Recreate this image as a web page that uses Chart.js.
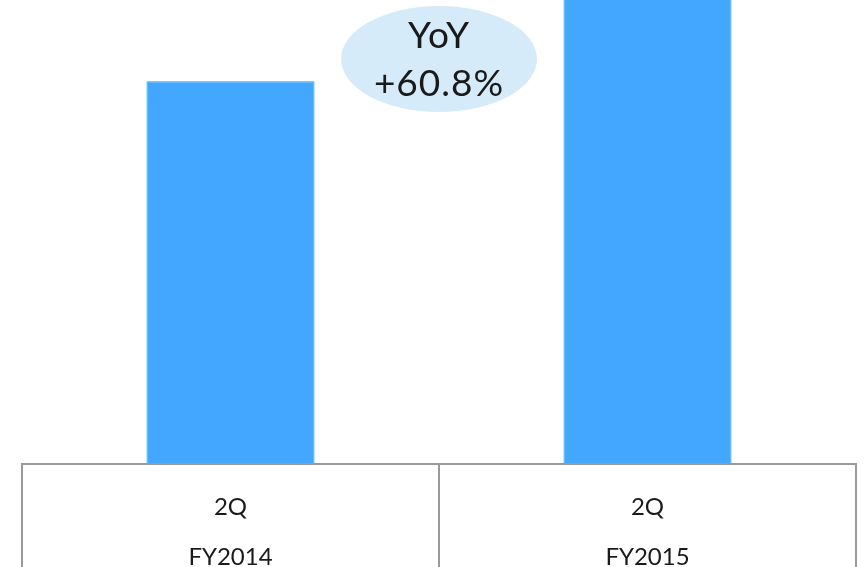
<!DOCTYPE html>
<html>
<head>
<meta charset="utf-8">
<script src="https://cdn.jsdelivr.net/npm/chart.js@4"></script>
<style>
  html, body { margin: 0; padding: 0; background: #fff; }
  #wrap { width: 864px; height: 567px; }
</style>
</head>
<body>
<div id="wrap"><canvas id="salesChart"></canvas></div>
<script>
// quarter / fiscal year labels
const quarters = ['2Q', '2Q'];
const fiscalYears = ['FY2014', 'FY2015'];
// 2Q sales, FY2015 is +60.8% on FY2014
const sales = [1000, 1608];
// axis top, the FY2015 bar runs past it
const yMax = 1212;

// YoY growth in percent
const yoy = ((sales[1] / sales[0] - 1) * 100).toFixed(1);

const lineColor = '#9a9a9a';

// table grid under the bars: top rule, outer sides and divider between the columns
const tableLines = {
    id: 'tableLines',
    afterDraw(chart) {
        const ctx = chart.ctx;
        const x = chart.scales.x;
        const top = chart.chartArea.bottom;
        const bottom = chart.height;
        const step = x.getPixelForValue(1) - x.getPixelForValue(0);
        const edges = [x.getPixelForValue(0) - step / 2];
        for (let i = 0; i < quarters.length; i++) {
            edges.push(x.getPixelForValue(i) + step / 2);
        }
        ctx.save();
        ctx.strokeStyle = lineColor;
        ctx.lineWidth = 2;
        ctx.beginPath();
        ctx.moveTo(edges[0] - 1, top);
        ctx.lineTo(edges[edges.length - 1] + 1, top);
        edges.forEach(function(e) {
            ctx.moveTo(e, top);
            ctx.lineTo(e, bottom);
        });
        ctx.stroke();
        ctx.restore();
    }
};

// growth bubble between the two bars
const yoyBubble = {
    id: 'yoyBubble',
    afterDraw(chart) {
        const ctx = chart.ctx;
        const x = chart.scales.x;
        const cx = (x.getPixelForValue(0) + x.getPixelForValue(1)) / 2;
        const cy = chart.chartArea.top + 59;
        ctx.save();
        ctx.fillStyle = '#d6ebfa';
        ctx.beginPath();
        ctx.ellipse(cx, cy, 98, 53, 0, 0, Math.PI * 2);
        ctx.fill();
        ctx.fillStyle = '#1a1a1a';
        ctx.font = '37px Lato';
        ctx.letterSpacing = '1px';
        ctx.textAlign = 'center';
        ctx.textBaseline = 'middle';
        ctx.fillText('YoY', cx, cy - 23);
        ctx.fillText('+' + yoy + '%', cx, cy + 25);
        ctx.restore();
    }
};

const ctx = document.getElementById('salesChart').getContext('2d');

new Chart(ctx, {
    type: 'bar',
    data: {
        labels: quarters.map((q, i) => [q, fiscalYears[i]]),
        datasets: [{
            data: sales,
            backgroundColor: '#44a7ff',
            borderColor: '#00b0f0',
            borderWidth: 1,
            barPercentage: 0.403,
            categoryPercentage: 1
        }]
    },
    options: {
        responsive: true,
        maintainAspectRatio: false,
        animation: false,
        layout: { padding: { left: 22, right: 8, top: 0, bottom: 0 } },
        plugins: {
            legend: { display: false },
            tooltip: { enabled: false }
        },
        scales: {
            x: {
                grid: { display: false },
                border: { display: false },
                ticks: {
                    color: '#1a1a1a',
                    padding: 10,
                    maxRotation: 0,
                    font: { family: 'Lato', size: 24, lineHeight: 50 / 24 }
                },
                afterFit(scale) {
                    scale.height = 103;
                }
            },
            y: {
                display: false,
                min: 0,
                max: yMax
            }
        }
    },
    plugins: [tableLines, yoyBubble]
});
</script>
</body>
</html>
